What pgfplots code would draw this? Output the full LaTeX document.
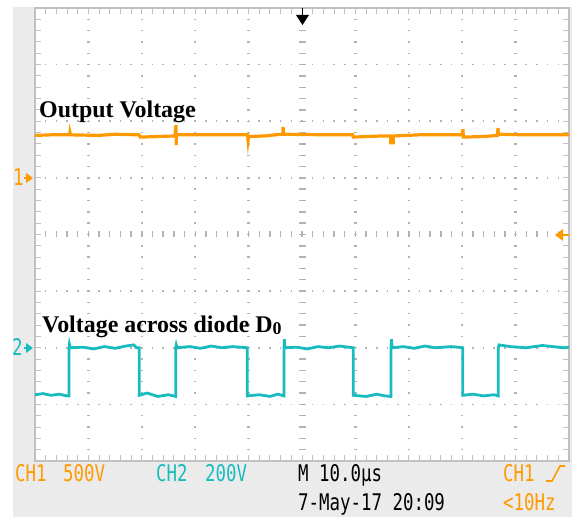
\documentclass[border=0pt]{standalone}
\usepackage{fontspec}
\setmainfont{Liberation Serif}
\newfontfamily\lcdfont[FakeStretch=0.76]{DejaVu Sans Mono}
\usepackage{pgfplots}
\pgfplotsset{compat=1.18}
\definecolor{ch1}{RGB}{255,153,0}
\definecolor{ch2}{RGB}{24,188,190}
\definecolor{panel}{RGB}{235,235,235}
\definecolor{frame}{RGB}{192,192,192}
\definecolor{dots}{RGB}{178,178,178}

\begin{document}
\begin{tikzpicture}[x=1bp,y=1bp,
  lcd/.style={anchor=base west, inner sep=0pt, font=\lcdfont\fontsize{23}{23}\selectfont},
  lbl/.style={anchor=base west, inner sep=0pt, font=\bfseries\fontsize{24}{24}\selectfont}]
\path[use as bounding box] (0,0) rectangle (572,517);
% instrument panel and screen
\fill[panel] (13,0) rectangle (572,510);
\fill[white] (35,56) rectangle (569,509);
% graticule: dotted division lines
\foreach \i in {1,2,3,4,6,7,8,9}{
  \foreach \j in {1,...,39}{
    \fill[dots] ({35+53.4*\i-1.2},{56+11.325*\j-0.7}) rectangle ++(2.4,1.4);
  }
}
\foreach \j in {1,2,3,5,6,7}{
  \foreach \i in {1,...,49}{
    \fill[dots] ({35+10.68*\i-0.8},{56+56.625*\j-0.8}) rectangle ++(1.6,1.6);
  }
}
% centre crosshair with sub-division marks
\foreach \j in {1,...,39}{
  \fill[dots] ({302-3.5},{56+11.325*\j-0.7}) rectangle ++(7,1.4);
}
\foreach \i in {1,...,49}{
  \fill[dots] ({35+10.68*\i-0.7},{282.5-3}) rectangle ++(1.4,6);
}

\begin{axis}[
  at={(35bp,56bp)}, anchor=south west,
  scale only axis, width=534bp, height=453bp,
  xmin=0, xmax=10, ymin=-4, ymax=4,
  xtick={0,...,10}, ytick={-4,...,4},
  minor x tick num=4, minor y tick num=4,
  xticklabels={}, yticklabels={},
  tick align=inside,
  major tick length=6bp, minor tick length=6bp,
  axis line style={draw=frame, line width=1.6bp},
  tick style={draw=frame, line width=1bp},
  no markers,
]
% CH1: output voltage
\addplot[ch1, line width=3.2bp] coordinates {
  (0,1.75) (0.3,1.76) (0.65,1.76) (0.655,1.80) (0.665,1.76) (1.2,1.75)
  (1.5,1.77) (1.95,1.76) (1.97,1.72) (2.3,1.73) (2.62,1.74) (2.64,1.93)
  (2.645,1.58) (2.65,1.76) (3.4,1.76) (3.98,1.76) (3.99,1.66) (4.0,1.73)
  (4.3,1.74) (4.5,1.76) (4.64,1.77) (4.645,1.90) (4.655,1.77) (5.5,1.76)
  (5.95,1.76) (5.96,1.72) (6.2,1.73) (6.5,1.74) (6.66,1.74) (6.66,1.62)
  (6.71,1.62) (6.71,1.74) (7.2,1.76) (8.0,1.76) (8.015,1.86) (8.02,1.72)
  (8.4,1.73) (8.66,1.75) (8.67,1.88) (8.68,1.77) (9.2,1.76) (10,1.76)
};
% CH2: voltage across the diode
\addplot[ch2, line width=2.8bp] coordinates {
  (0,-2.83) (0.15,-2.81) (0.3,-2.84) (0.45,-2.82) (0.6,-2.85) (0.637,-2.85)
  (0.637,-2.0) (0.645,-1.94) (0.66,-2.0) (0.9,-1.99) (1.1,-2.02) (1.3,-1.98)
  (1.5,-2.01) (1.7,-1.97) (1.85,-1.95) (1.9,-2.0) (1.953,-2.0)
  (1.953,-2.84) (2.1,-2.80) (2.3,-2.86) (2.5,-2.83) (2.635,-2.86)
  (2.635,-2.0) (2.645,-1.95) (2.66,-2.0) (2.9,-1.98) (3.1,-2.01) (3.3,-1.97)
  (3.5,-2.0) (3.7,-1.98) (3.976,-2.0)
  (3.976,-2.85) (4.2,-2.83) (4.4,-2.86) (4.55,-2.82) (4.663,-2.85)
  (4.663,-2.0) (4.67,-1.85) (4.68,-2.0) (4.9,-1.99) (5.1,-2.02) (5.3,-1.98)
  (5.5,-2.0) (5.7,-1.97) (5.961,-2.0)
  (5.961,-2.84) (6.2,-2.86) (6.4,-2.82) (6.55,-2.85) (6.667,-2.86)
  (6.667,-2.0) (6.675,-1.85) (6.69,-2.0) (6.9,-1.98) (7.1,-2.01) (7.3,-1.97)
  (7.5,-2.0) (7.8,-1.98) (8.009,-2.0)
  (8.009,-2.84) (8.2,-2.82) (8.4,-2.85) (8.6,-2.83) (8.676,-2.85)
  (8.676,-2.0) (8.69,-1.95) (8.9,-1.98) (9.2,-2.0) (9.5,-1.96) (9.7,-1.98)
  (9.9,-2.0) (10,-1.99)
};
\end{axis}

% trace annotations
\node[lbl] at (39,399) {Output Voltage};
\node[lbl] at (42,184) {Voltage across diode D\raisebox{-2bp}{\fontsize{18}{18}\selectfont 0}};

% channel ground markers
\node[lcd, text=ch1, font=\lcdfont\fontsize{23}{23}\selectfont] at (13,331) {1};
\draw[ch1, line width=1.5bp] (24,339) -- (28,339);
\fill[ch1] (26,344) -- (33,339) -- (26,334) -- cycle;
\node[lcd, text=ch2, font=\lcdfont\fontsize{23}{23}\selectfont] at (12,161) {2};
\draw[ch2, line width=1.5bp] (24,169) -- (28,169);
\fill[ch2] (26,174) -- (33,169) -- (26,164) -- cycle;
% trigger level and trigger position
\draw[ch1, line width=1.5bp] (561,282) -- (569,282);
\fill[ch1] (563,288) -- (555,282) -- (563,276) -- cycle;
\draw[black, line width=1.6bp] (302.5,509) -- (302.5,500);
\fill[black] (296,502) -- (309,502) -- (302.5,492) -- cycle;

% status line
\node[lcd, text=ch1] at (15,35) {CH1};
\node[lcd, text=ch1] at (63,35) {500V};
\node[lcd, text=ch2] at (156,35) {CH2};
\node[lcd, text=ch2] at (205,35) {200V};
\node[lcd] at (298,35) {M 10.0µs};
\node[lcd, text=ch1] at (503,35) {CH1};
\draw[ch1, line width=1.6bp] (546,36) -- (552,36) -- (560,51) -- (565,51);
\node[lcd] at (298,6) {7-May-17 20:09};
\node[lcd, text=ch1] at (503,6) {<10Hz};
\end{tikzpicture}
\end{document}
